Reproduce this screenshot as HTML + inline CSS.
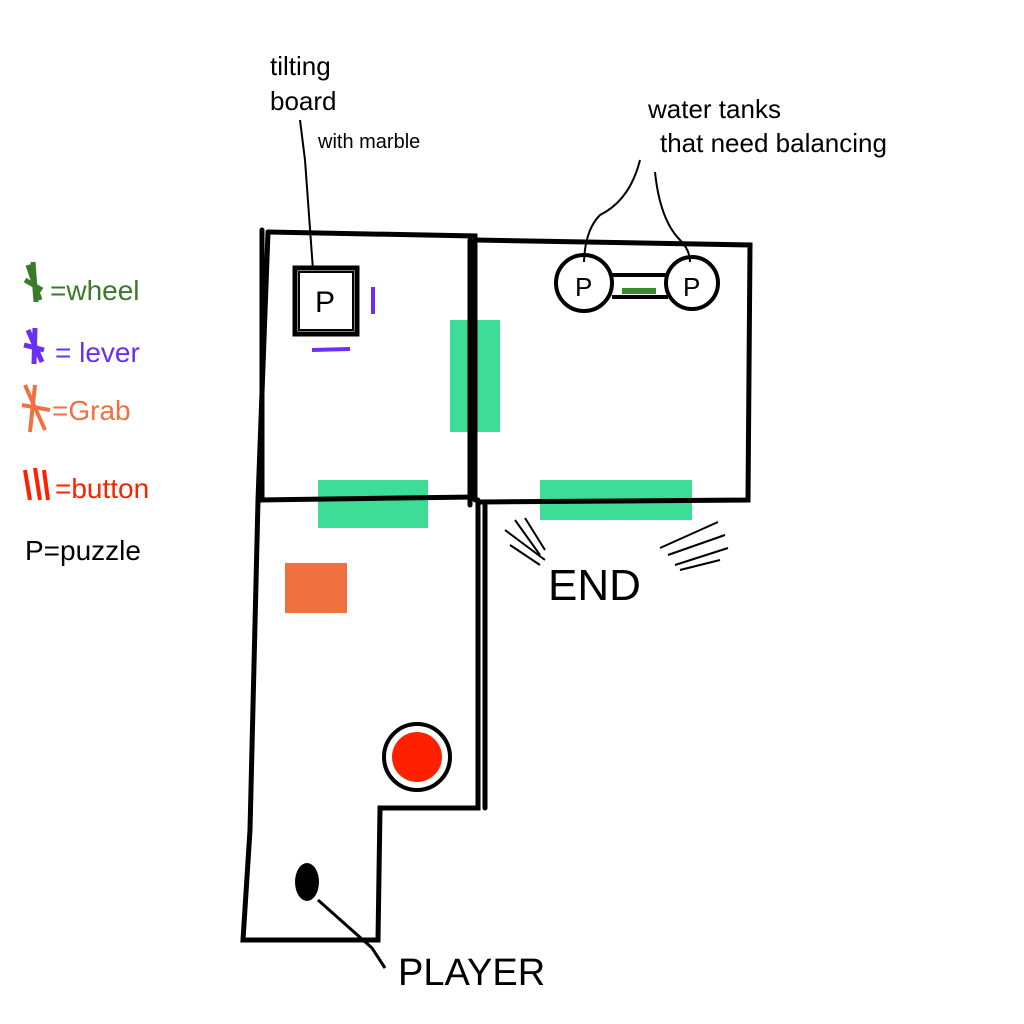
<!DOCTYPE html>
<html><head><style>
html,body{margin:0;padding:0;background:#fff;}
svg{display:block;}
text{font-family:"Liberation Sans",sans-serif;}
</style></head><body>
<svg width="1024" height="1024" viewBox="0 0 1024 1024" xmlns="http://www.w3.org/2000/svg">
<rect width="1024" height="1024" fill="#fff"/>
<!-- green doors -->
<rect x="450" y="320" width="50" height="112" fill="#3ddc97"/>
<rect x="318" y="480" width="110" height="48" fill="#3ddc97"/>
<rect x="540" y="480" width="152" height="40" fill="#3ddc97"/>
<rect x="285" y="563" width="62" height="50" fill="#f07040"/>
<g stroke="#000" stroke-width="5" fill="none" stroke-linecap="round">
<!-- top-left room -->
<path d="M268 232 L475 236 L475 500"/>
<path d="M268 232 L258 500 L250 830 L243 940 L378 940 L380 808 L478 808 L478 500"/>
<path d="M262 230 L262 500"/>
<path d="M258 500 L475 497"/>
<path d="M485 505 L485 808"/>
<!-- top-right room -->
<path d="M475 240 L750 245 L748 500 L480 502"/>
<path d="M470 240 L470 505"/>
<!-- P box -->
<rect x="295" y="268" width="62" height="66"/>
</g>
<rect x="299" y="272" width="54" height="58" fill="none" stroke="#000" stroke-width="2"/>
<text x="315" y="312" font-size="30">P</text>
<line x1="373" y1="287" x2="373" y2="314" stroke="#6a2ff0" stroke-width="4"/>
<line x1="312" y1="350" x2="350" y2="349" stroke="#6a2ff0" stroke-width="4"/>
<!-- tanks -->
<g stroke="#000" stroke-width="4" fill="#fff">
<line x1="612" y1="275" x2="668" y2="275"/>
<line x1="612" y1="297" x2="668" y2="297"/>
<circle cx="584" cy="283" r="28"/>
<circle cx="692" cy="283" r="26"/>
</g>
<line x1="622" y1="291" x2="656" y2="291" stroke="#3a8a2a" stroke-width="6"/>
<text x="575" y="296" font-size="26">P</text>
<text x="683" y="296" font-size="26">P</text>
<!-- red button -->
<circle cx="417" cy="757" r="33" fill="#fff" stroke="#000" stroke-width="4"/>
<circle cx="417" cy="757" r="25" fill="#ff2000"/>
<!-- player -->
<ellipse cx="307" cy="882" rx="12" ry="19" fill="#000"/>
<path d="M318 900 L372 948 L385 968" stroke="#000" stroke-width="3" fill="none"/>
<text x="398" y="985" font-size="38">PLAYER</text>
<!-- leader lines -->
<path d="M300 120 L305 160 L313 270" stroke="#000" stroke-width="2" fill="none"/>
<path d="M640 160 Q630 200 600 215 Q585 230 584 262" stroke="#000" stroke-width="2" fill="none"/>
<path d="M655 172 Q660 220 680 240 Q690 250 690 262" stroke="#000" stroke-width="2" fill="none"/>
<!-- labels -->
<text x="270" y="75" font-size="26">tilting</text>
<text x="270" y="110" font-size="26">board</text>
<text x="318" y="148" font-size="20">with marble</text>
<text x="648" y="118" font-size="26">water tanks</text>
<text x="660" y="152" font-size="26">that need balancing</text>
<text x="548" y="600" font-size="44">END</text>
<g stroke="#000" stroke-width="2" fill="none">
<path d="M505 530 L545 560 M515 520 L540 555 M525 518 L545 550 M510 545 L540 565"/>
<path d="M660 548 L718 522 M668 555 L725 535 M675 565 L728 548 M680 570 L720 560"/>
</g>
<!-- legend -->
<path d="M28 265 L40 300 M33 262 L36 302 M25 280 L42 290" stroke="#3a7a2a" stroke-width="5"/>
<text x="50" y="300" font-size="28" fill="#3a7a2a">=wheel</text>
<path d="M28 330 L42 362 M35 328 L34 364 M24 345 L44 350" stroke="#6a2ff0" stroke-width="5"/>
<text x="55" y="362" font-size="28" fill="#6a2ff0">= lever</text>
<path d="M25 385 L45 430 M35 385 L30 432 M22 405 L50 410" stroke="#f07040" stroke-width="4"/>
<text x="52" y="420" font-size="28" fill="#f07040">=Grab</text>
<path d="M25 470 L30 500 M35 468 L40 500 M44 470 L48 500" stroke="#ff2000" stroke-width="4"/>
<text x="55" y="498" font-size="28" fill="#ff2000">=button</text>
<text x="25" y="560" font-size="28" fill="#000">P=puzzle</text>
</svg>
</body></html>
